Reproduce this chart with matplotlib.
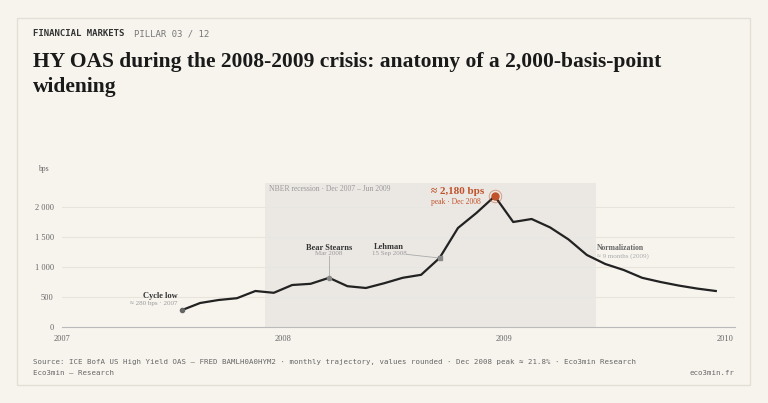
import matplotlib
matplotlib.use("Agg")
import matplotlib.pyplot as plt
from matplotlib.patches import Rectangle

# monthly HY OAS, Jul 2007 - Dec 2009 (bps, rounded)
months = ["2007-07", "2007-08", "2007-09", "2007-10", "2007-11", "2007-12",
          "2008-01", "2008-02", "2008-03", "2008-04", "2008-05", "2008-06",
          "2008-07", "2008-08", "2008-09", "2008-10", "2008-11", "2008-12",
          "2009-01", "2009-02", "2009-03", "2009-04", "2009-05", "2009-06",
          "2009-07", "2009-08", "2009-09", "2009-10", "2009-11", "2009-12"]
oas = [280, 400, 450, 480, 600, 570, 700, 720, 820, 680, 650, 730,
       820, 870, 1150, 1650, 1900, 2180, 1750, 1800, 1660, 1460,
       1200, 1050, 950, 820, 750, 690, 640, 600]
yticks = [0, 500, 1000, 1500, 2000]
ytick_labels = ["0", "500", "1 500", "1 000", "2 000"]
ytick_labels = ["0", "500", "1 000", "1 500", "2 000"]

def dec(m):
    y, mo = m.split("-")
    return int(y) + (int(mo) - 0.5) / 12

x = [dec(m) for m in months]

BG = "#f7f4ee"
INK = "#222222"
ACC = "#c0532b"
SERIF = "Liberation Serif"
MONO = "DejaVu Sans Mono"

fig = plt.figure(figsize=(7.68, 4.03), dpi=100)
fig.patch.set_facecolor(BG)
fig.patches.append(Rectangle((17/768, 18/403), 733/768, 367/403, transform=fig.transFigure,
                             fill=False, edgecolor="#e4dfd5", lw=1))

fig.text(33/768, 1 - 34/403, "FINANCIAL MARKETS", family=MONO, fontsize=6.5,
         weight="bold", color="#333333", va="center")
fig.text(134/768, 1 - 34/403, "PILLAR 03 / 12", family=MONO, fontsize=6.5,
         color="#777777", va="center")
fig.text(33/768, 1 - 62/403, "HY OAS during the 2008-2009 crisis: anatomy of a 2,000-basis-point",
         family=SERIF, fontsize=15.5, weight="bold", color="#1a1a1a", va="center")
fig.text(33/768, 1 - 87/403, "widening", family=SERIF, fontsize=15.5, weight="bold",
         color="#1a1a1a", va="center")
fig.text(33/768, 1 - 362/403, "Source: ICE BofA US High Yield OAS — FRED BAMLH0A0HYM2 · monthly trajectory, values rounded · Dec 2008 peak ≈ 21.8% · Eco3min Research",
         family=MONO, fontsize=5.3, color="#666666", va="center")
fig.text(33/768, 1 - 373/403, "Eco3min — Research", family=MONO, fontsize=5.3,
         color="#666666", va="center")
fig.text(734/768, 1 - 373/403, "eco3min.fr", family=MONO, fontsize=5.3,
         color="#666666", va="center", ha="right")

ax = fig.add_axes([62/768, 1 - 327/403, (735 - 62)/768, (327 - 183)/403])
ax.set_facecolor(BG)
ax.set_xlim(2007, 2007 + (735 - 62) / 221.0)
ax.set_ylim(0, 2400)
for s in ["top", "right", "left"]:
    ax.spines[s].set_visible(False)
ax.spines["bottom"].set_color("#bbbbbb")
ax.set_yticks(yticks)
ax.set_yticklabels(ytick_labels, family=SERIF, fontsize=6, color="#666666")
ax.set_xticks([2007, 2008, 2009, 2010])
ax.set_xticklabels(["2007", "2008", "2009", "2010"], family=SERIF, fontsize=6, color="#666666")
ax.tick_params(length=0, pad=6)
for t in yticks[1:]:
    ax.axhline(t, color="#e8e4dc", lw=0.8, zorder=0)
ax.text(-0.02, 1.08, "bps", transform=ax.transAxes, family=SERIF, fontsize=5.5,
        color="#666666", ha="right")

ax.axvspan(2007 + 11/12, 2009 + 5/12, color="#e9e7e3", alpha=0.85, zorder=0, lw=0)
ax.text(2007 + 11/12 + 0.02, 2300, "NBER recession · Dec 2007 – Jun 2009", family=SERIF,
        fontsize=5.5, color="#999999", va="center")

ax.plot(x, oas, color=INK, lw=1.6, zorder=3)

# cycle low
ax.plot(x[0], oas[0], "o", ms=3, color="#666666", zorder=4)
ax.text(x[0] - 0.02, 520, "Cycle low", family=SERIF, fontsize=6, weight="bold",
        color="#333333", ha="right", va="center")
ax.text(x[0] - 0.02, 400, "≈ 280 bps · 2007", family=SERIF, fontsize=5, color="#999999",
        ha="right", va="center")
# Bear Stearns
ax.plot(x[8], oas[8], "o", ms=3, color="#888888", zorder=4)
ax.plot([x[8], x[8]], [oas[8], 1180], color="#aaaaaa", lw=0.6)
ax.text(x[8], 1320, "Bear Stearns", family=SERIF, fontsize=6, weight="bold",
        color="#333333", ha="center", va="center")
ax.text(x[8], 1190 + 30, "Mar 2008", family=SERIF, fontsize=5, color="#999999",
        ha="center", va="center")
# Lehman
ax.plot(x[14], oas[14], "s", ms=3, color="#888888", zorder=4)
ax.plot([2008 + 0.56, x[14]], [1210, oas[14]], color="#aaaaaa", lw=0.6)
ax.text(2008 + 0.48, 1340, "Lehman", family=SERIF, fontsize=6, weight="bold",
        color="#333333", ha="center", va="center")
ax.text(2008 + 0.48, 1220, "15 Sep 2008", family=SERIF, fontsize=5, color="#999999",
        ha="center", va="center")
# peak
ax.plot(x[17], oas[17], "o", ms=9, mfc="none", mec=ACC, mew=0.7, alpha=0.5, zorder=4)
ax.plot(x[17], oas[17], "o", ms=5, color=ACC, zorder=5)
ax.text(2008 + 0.67, 2250, "≈ 2,180 bps", family=SERIF, fontsize=8, weight="bold",
        color=ACC, va="center")
ax.text(2008 + 0.67, 2080, "peak · Dec 2008", family=SERIF, fontsize=5.5,
        color=ACC, va="center")
# normalization
ax.text(2009 + 5/12 + 0.005, 1320, "Normalization", family=SERIF, fontsize=5.5,
        weight="bold", color="#666666", va="center")
ax.text(2009 + 5/12 + 0.005, 1180, "≈ 9 months (2009)", family=SERIF, fontsize=5,
        color="#aaaaaa", va="center")

fig.savefig("out.png", dpi=100, facecolor=BG)
